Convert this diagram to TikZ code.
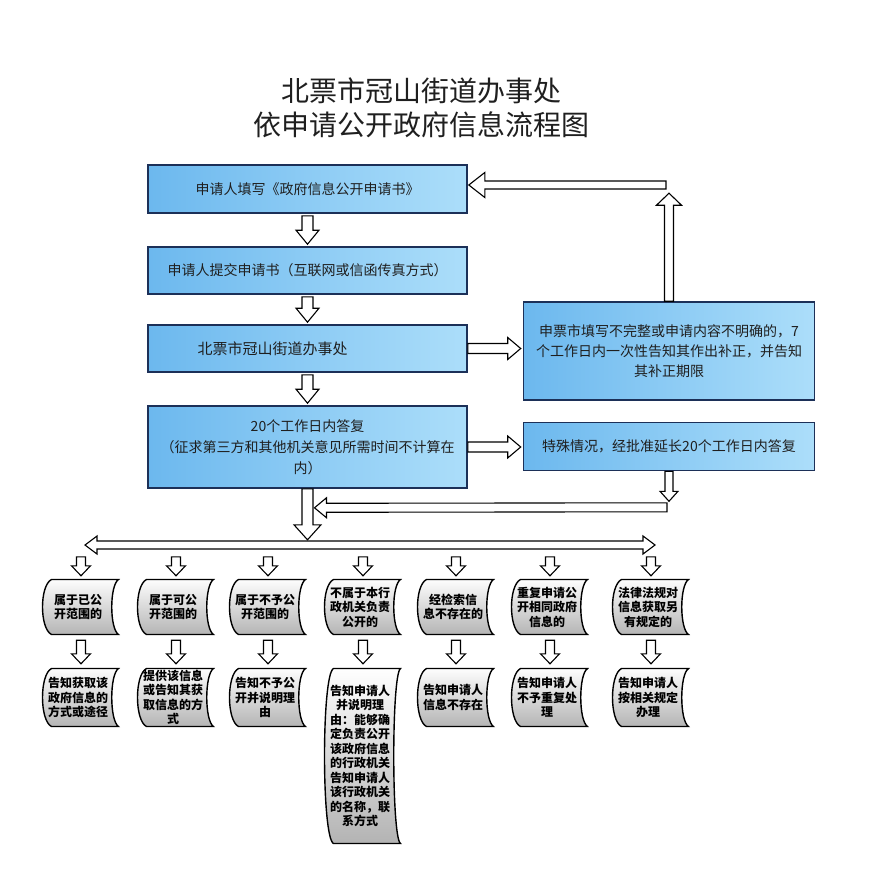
\documentclass[tikz,border=0pt]{standalone}
\usepackage{fontspec}
\setmainfont{Noto Sans CJK SC}
\usetikzlibrary{calc}
\definecolor{boxline}{RGB}{28,48,88}
\definecolor{boxL}{RGB}{108,184,238}
\definecolor{boxR}{RGB}{172,222,250}
\tikzset{
  titlestyle/.style={font=\fontsize{28}{34}\selectfont, text=black!88, inner sep=0pt},
  bluebox/.style={draw=boxline, line width=1.6pt, left color=boxL, right color=boxR,
    align=center, inner sep=3pt, font=\fontsize{14}{21}\selectfont, text=black!88},
  hol/.style={draw=black, fill=white, line width=1.1pt, line join=miter},
  blockarr/.style n args={3}{to path={let \p1=(\tikztostart), \p2=(\tikztotarget),
      \n1={atan2(\y2-\y1,\x2-\x1)} in
      ($(\p1)+(\n1+90:#1)$) -- ($(\p2)+(\n1+180:#3)+(\n1+90:#1)$)
      -- ($(\p2)+(\n1+180:#3)+(\n1+90:#2)$) -- (\p2)
      -- ($(\p2)+(\n1+180:#3)+(\n1-90:#2)$) -- ($(\p2)+(\n1+180:#3)+(\n1-90:#1)$)
      -- ($(\p1)+(\n1-90:#1)$) -- cycle}},
  blockarrtwo/.style n args={3}{to path={let \p1=(\tikztostart), \p2=(\tikztotarget),
      \n1={atan2(\y2-\y1,\x2-\x1)} in
      (\p1) -- ($(\p1)+(\n1:#3)+(\n1+90:#2)$) -- ($(\p1)+(\n1:#3)+(\n1+90:#1)$)
      -- ($(\p2)+(\n1+180:#3)+(\n1+90:#1)$) -- ($(\p2)+(\n1+180:#3)+(\n1+90:#2)$)
      -- (\p2)
      -- ($(\p2)+(\n1+180:#3)+(\n1-90:#2)$) -- ($(\p2)+(\n1+180:#3)+(\n1-90:#1)$)
      -- ($(\p1)+(\n1:#3)+(\n1-90:#1)$) -- ($(\p1)+(\n1:#3)+(\n1-90:#2)$) -- cycle}},
  docnode/.style={inner sep=0pt, align=center, minimum width=84pt,
    font=\bfseries\fontsize{12}{14.5}\selectfont, text=black,
    path picture={
      \draw[line width=1.4pt, top color=white, bottom color=black!30]
        let \p1=($(path picture bounding box.north west)+(6.5pt,-1.5pt)$),
            \p2=($(path picture bounding box.south east)+(-1.5pt,1.5pt)$) in
        (\x1+9pt,\y1) -- (\x2,\y1)
        .. controls (\x2-9pt,\y1-6pt) and (\x2-9pt,\y2+6pt) .. (\x2,\y2)
        -- (\x1+9pt,\y2)
        .. controls (\x1-3pt,\y2+6pt) and (\x1-3pt,\y1-6pt) .. (\x1+9pt,\y1) -- cycle;
    }},
  rowone/.style={docnode, minimum height=58pt},
  rowtwo/.style={docnode, minimum height=61pt},
}
\begin{document}
\begin{tikzpicture}[x=1pt,y=-1pt]
\fill[white] (0,0) rectangle (869,896);
\useasboundingbox (0,0) rectangle (869,896);

% title
\node[titlestyle] (t1) at (421,91) {北票市冠山街道办事处};
\node[titlestyle] (t2) at (421,125) {依申请公开政府信息流程图};

% main boxes
\node[bluebox, minimum width=319pt, minimum height=48pt] (b1) at (307.5,189)
  {申请人填写《政府信息公开申请书》};
\node[bluebox, minimum width=319pt, minimum height=47pt] (b2) at (307.5,270.5)
  {申请人提交申请书（互联网或信函传真方式）};
\node[bluebox, minimum width=319pt, minimum height=47pt, text width=290pt, align=left,
  font=\fontsize{15}{18}\selectfont] (b3) at (307.5,348.5)
  {\hspace*{35pt}北票市冠山街道办事处};
\node[bluebox, minimum width=319pt, minimum height=82pt] (b4) at (307.5,447)
  {20个工作日内答复\\（征求第三方和其他机关意见所需时间不计算在\\内）};
\node[bluebox, minimum width=291pt, minimum height=98pt, font=\fontsize{14}{20}\selectfont]
  (bA) at (669,351)
  {申票市填写不完整或申请内容不明确的，7\\个工作日内一次性告知其作出补正，并告知\\其补正期限};
\node[bluebox, minimum width=291pt, minimum height=48pt] (bB) at (669,446.5)
  {特殊情况，经批准延长20个工作日内答复};

% arrows between main boxes
\coordinate (a12s) at ($(b1.south)+(0,2)$);
\coordinate (a12e) at ($(b2.north)+(0,-2)$);
\coordinate (a23s) at ($(b2.south)+(0,2)$);
\coordinate (a23e) at ($(b3.north)+(0,-2)$);
\coordinate (a34s) at ($(b3.south)+(0,2)$);
\coordinate (a34e) at ($(b4.north)+(0,-2)$);
\draw[hol] (a12s) to[blockarr={5.5pt}{11.5pt}{14pt}] (a12e);
\draw[hol] (a23s) to[blockarr={5.5pt}{11.5pt}{14pt}] (a23e);
\draw[hol] (a34s) to[blockarr={5.5pt}{11.5pt}{14pt}] (a34e);

% right arrows
\coordinate (aAs) at (b3.east);
\coordinate (aAe) at ($(b3.east -| bA.west)+(-2,0)$);
\coordinate (aBs) at (b4.east);
\coordinate (aBe) at ($(b4.east -| bB.west)+(-2,0)$);
\draw[hol] (aAs) to[blockarr={5pt}{11pt}{13pt}] (aAe);
\draw[hol] (aBs) to[blockarr={5pt}{11pt}{13pt}] (aBe);

% feedback loop
\coordinate (fbUp) at ($(bA.north)+(0,-108)$);
\coordinate (fbL) at ($(b1.east)+(1,-4)$);
\coordinate (fbR) at ($(fbL -| bA.north)+(-3,0)$);
\draw[hol] (bA.north) to[blockarr={4.5pt}{12.5pt}{12pt}] (fbUp);
\draw[hol] (fbR) to[blockarr={4pt}{12.5pt}{16pt}] (fbL);

% main down and return
\coordinate (mdE) at ($(b4.south)+(0,51)$);
\draw[hol] (b4.south) to[blockarr={5.5pt}{13.5pt}{15pt}] (mdE);
\coordinate (bdE) at ($(bB.south)+(0,30)$);
\draw[hol] (bB.south) to[blockarr={4pt}{9pt}{10pt}] (bdE);
\coordinate (retR) at ($(bB.south)+(-2,36)$);
\coordinate (retL) at ($(b4.south)+(7,19)$);
\draw[hol] (retR) to[blockarr={4.5pt}{10pt}{12pt}] (retL);

% distribution double arrow
\coordinate (dl) at (85,545);
\coordinate (dr) at (655,545);
\draw[hol] (dl) to[blockarrtwo={4pt}{9pt}{12pt}] (dr);

% row one
\node[rowone] (r1c1) at (78,607) {属于已公\\开范围的};
\node[rowone] (r1c2) at (173,607) {属于可公\\开范围的};
\node[rowone] (r1c3) at (265,607) {属于不予公\\开范围的};
\node[rowone] (r1c4) at (360,607) {不属于本行\\政机关负责\\公开的};
\node[rowone] (r1c5) at (453,607) {经检索信\\息不存在的};
\node[rowone] (r1c6) at (547,607) {重复申请公\\开相同政府\\信息的};
\node[rowone] (r1c7) at (648,607) {法律法规对\\信息获取另\\有规定的};

% row two
\node[rowtwo] (r2c1) at (78,697.5) {告知获取该\\政府信息的\\方式或途径};
\node[rowtwo] (r2c2) at (173,697.5) {提供该信息\\或告知其获\\取信息的方\\式};
\node[rowtwo] (r2c3) at (265,697.5) {告知不予公\\开并说明理\\由};
\node[docnode, minimum height=178pt] (r2c4) at (360,756)
  {告知申请人\\并说明理\\由：能够确\\定负责公开\\该政府信息\\的行政机关\\告知申请人\\该行政机关\\的名称，联\\系方式};
\node[rowtwo] (r2c5) at (453,697.5) {告知申请人\\信息不存在};
\node[rowtwo] (r2c6) at (547,697.5) {告知申请人\\不予重复处\\理};
\node[rowtwo] (r2c7) at (648,697.5) {告知申请人\\按相关规定\\办理};

% column arrows
\foreach \c in {1,...,7}{
  \coordinate (u\c s) at ($(r1c\c.north)+(3,-21)$);
  \coordinate (u\c e) at ($(r1c\c.north)+(3,-2)$);
  \draw[hol] (u\c s) to[blockarr={4.5pt}{9.5pt}{10pt}] (u\c e);
  \coordinate (v\c s) at ($(r1c\c.south)+(3,4)$);
  \coordinate (v\c e) at ($(r2c\c.north)+(3,-3)$);
  \draw[hol] (v\c s) to[blockarr={4.5pt}{9.5pt}{10pt}] (v\c e);
}
\end{tikzpicture}
\end{document}
